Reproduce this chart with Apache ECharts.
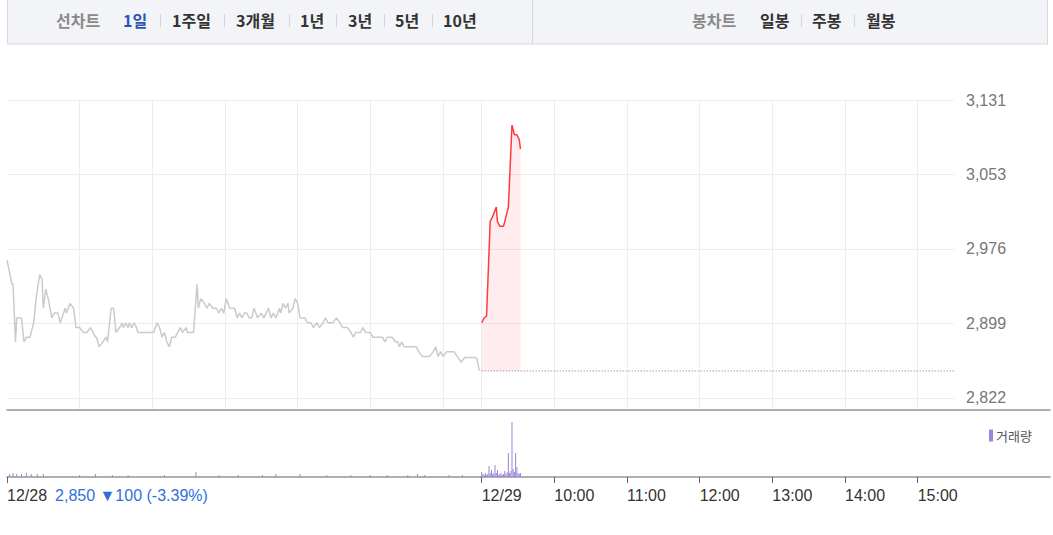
<!DOCTYPE html>
<html><head><meta charset="utf-8">
<script src="https://cdn.jsdelivr.net/npm/echarts@6/dist/echarts.min.js"></script>
<style>html,body{margin:0;padding:0;background:#fff}#c{width:1053px;height:535px}</style>
</head><body><div id="c"></div>
<script>
// ---------------- DATA ----------------
const prevClose = 2850;
const changeText = '2,850 ▼100 (-3.39%)';
const dayLabels = ['12/28', '12/29'];

const day1Times = ['09:00','09:04','09:05','09:07','09:08','09:12','09:14','09:16','09:19','09:22','09:24','09:27','09:29','09:30','09:32','09:34','09:37','09:39','09:42','09:44','09:48','09:49','09:52','09:55','09:57','10:00','10:03','10:06','10:09','10:11','10:13','10:14','10:16','10:19','10:22','10:23','10:26','10:28','10:30','10:33','10:35','10:36','10:38','10:40','10:41','10:43','10:45','10:47','10:48','10:50','10:52','11:01','11:04','11:06','11:08','11:10','11:12','11:14','11:16','11:19','11:21','11:23','11:25','11:28','11:29','11:31','11:34','11:37','11:38','11:40','11:43','11:45','11:47','11:50','11:53','11:55','11:57','11:59','12:01','12:04','12:08','12:10','12:12','12:14','12:16','12:18','12:20','12:22','12:24','12:27','12:30','12:32','12:34','12:36','12:38','12:40','12:42','12:45','12:46','12:48','12:50','12:52','12:53','12:56','12:58','13:00','13:02','13:06','13:08','13:11','13:13','13:16','13:18','13:21','13:23','13:25','13:29','13:32','13:35','13:37','13:41','13:44','13:46','13:48','13:52','13:54','13:56','14:00','14:02','14:10','14:12','14:14','14:18','14:21','14:23','14:24','14:26','14:28','14:38','14:40','14:43','14:49','14:52','14:54','14:56','14:58','15:00','15:03','15:09','15:13','15:15','15:18','15:26','15:28','15:30'];
const day1Prices = [2965,2940,2940,2880,2905,2905,2880,2885,2885,2900,2925,2950,2945,2915,2935,2925,2905,2910,2910,2900,2915,2910,2920,2915,2895,2895,2890,2890,2895,2890,2885,2885,2875,2880,2885,2880,2915,2915,2890,2895,2900,2895,2900,2895,2900,2895,2900,2895,2890,2890,2890,2890,2900,2895,2885,2890,2880,2875,2885,2885,2890,2895,2890,2895,2890,2890,2890,2940,2915,2925,2920,2915,2920,2915,2915,2910,2915,2910,2925,2915,2915,2905,2910,2905,2910,2910,2905,2905,2915,2905,2910,2905,2910,2915,2905,2910,2905,2915,2910,2920,2915,2920,2910,2915,2925,2920,2905,2905,2900,2900,2895,2900,2895,2900,2905,2900,2900,2905,2900,2895,2895,2890,2885,2890,2890,2895,2890,2890,2885,2885,2880,2885,2885,2880,2880,2875,2880,2875,2875,2870,2865,2865,2870,2875,2865,2870,2865,2870,2870,2863,2859,2864,2864,2863,2850];

const day2Times = ['09:00','09:02','09:04','09:07','09:09','09:12','09:13','09:15','09:18','09:20','09:22','09:25','09:27','09:29','09:31','09:32'];
const day2Prices = [2900,2905,2907,3005,3010,3020,3005,3000,3000,3010,3020,3105,3095,3095,3090,3080];

const day1VolTimes = ['09:02','09:05','09:08','09:12','09:16','09:20','09:25','09:30','10:00','10:13','10:27','10:40','11:10','11:36','11:55','12:11','12:31','12:42','13:02','13:24','13:44','14:00','14:14','14:31','14:39','14:45','15:05','15:16'];
const day1Vols = [4500,6000,4500,4500,6000,4500,4500,4500,3000,4500,3000,3000,3000,7500,3000,3000,3000,4500,4500,3000,3000,3000,3000,3000,4500,3000,3000,3000];

const day2VolTimes = ['09:00','09:01','09:02','09:03','09:04','09:05','09:06','09:07','09:08','09:09','09:10','09:11','09:12','09:13','09:14','09:15','09:16','09:17','09:18','09:19','09:20','09:21','09:22','09:23','09:24','09:25','09:26','09:27','09:28','09:29','09:30','09:31','09:32'];
const day2Vols = [7500,4500,3000,6000,3000,4500,16500,6000,10500,4500,6000,18000,6000,10500,3000,4500,6000,3000,4500,9000,4500,7500,36000,6000,9000,82000,12000,7500,36000,15000,6000,4500,6000];

const yTicks = [2822, 2899.25, 2976.5, 3053.75, 3131];
const yTickLabels = ['2,822', '2,899', '2,976', '3,053', '3,131'];

const gridDay1Times = ['10:00','11:00','12:00','13:00','14:00','15:00'];
const gridDay2Times = ['09:00','10:00','11:00','12:00','13:00','14:00','15:00'];

const xLabelDays  = [1, 2, 2, 2, 2, 2, 2, 2];
const xLabelTimes = ['09:00','09:00','10:00','11:00','12:00','13:00','14:00','15:00'];
const xLabelTexts = ['12/28', '12/29', '10:00', '11:00', '12:00', '13:00', '14:00', '15:00'];

const lineTabsTitle = '선차트';
const lineTabs = ['1일', '1주일', '3개월', '1년', '3년', '5년', '10년'];
const candleTabsTitle = '봉차트';
const candleTabs = ['일봉', '주봉', '월봉'];
const volumeName = '거래량';

// ---------------- LAYOUT ----------------
const DAY2_START = 392;          // axis offset of second session (minutes)
const SESSION = 390;             // 09:00 - 15:30
const X_MAX = DAY2_START + SESSION;
const Y_MIN = 2809.5, Y_MAX = 3131;
const VOL_MAX = 100000;

const toMin = t => { const [h, m] = t.split(':').map(Number); return (h - 9) * 60 + m; };
const xOf = (day, t) => (day === 1 ? 0 : DAY2_START) + toMin(t);

const gridXs = gridDay1Times.map(t => xOf(1, t)).concat(gridDay2Times.map(t => xOf(2, t)));
const labelXs = xLabelTimes.map((t, i) => xOf(xLabelDays[i], t));

const day1Line = day1Times.map((t, i) => [xOf(1, t), day1Prices[i]]);
const day2Line = day2Times.map((t, i) => [xOf(2, t), day2Prices[i]]);
const volData = day1VolTimes.map((t, i) => [xOf(1, t), day1Vols[i]])
  .concat(day2VolTimes.map((t, i) => [xOf(2, t), day2Vols[i]]));

const NUMFONT = '"Liberation Sans", Arial, sans-serif';
const KRFONT = '"Noto Sans CJK KR", sans-serif';

// top bar layout
const leftTabX = [123, 172, 236, 300, 348, 395, 443];
const leftSepX = [160, 224, 289, 336, 384, 432];
const rightTabX = [760, 812, 866];
const rightSepX = [801, 854];
const graphic = [
  { type: 'rect', shape: { x: 7.5, y: -1, width: 1040, height: 45 }, style: { fill: '#f3f4f8', stroke: '#d6d9df', lineWidth: 1 }, silent: true },
  { type: 'line', shape: { x1: 532.5, y1: 0, x2: 532.5, y2: 44 }, style: { stroke: '#d6d9df', lineWidth: 1 } },
  { type: 'text', x: 56, y: 20, style: { text: lineTabsTitle, fill: '#8a8a8a', font: 'bold 16px ' + KRFONT, verticalAlign: 'middle' } },
  { type: 'text', x: 692, y: 20, style: { text: candleTabsTitle, fill: '#8a8a8a', font: 'bold 16px ' + KRFONT, verticalAlign: 'middle' } }
];
lineTabs.forEach((t, i) => graphic.push({ type: 'text', x: leftTabX[i], y: 20, style: { text: t, fill: i === 0 ? '#2b55b5' : '#333', font: 'bold 16px ' + KRFONT, verticalAlign: 'middle' } }));
leftSepX.forEach(x => graphic.push({ type: 'line', shape: { x1: x + 0.5, y1: 14, x2: x + 0.5, y2: 27 }, style: { stroke: '#d3d5da', lineWidth: 1 } }));
candleTabs.forEach((t, i) => graphic.push({ type: 'text', x: rightTabX[i], y: 20, style: { text: t, fill: '#333', font: 'bold 16px ' + KRFONT, verticalAlign: 'middle' } }));
rightSepX.forEach(x => graphic.push({ type: 'line', shape: { x1: x + 0.5, y1: 14, x2: x + 0.5, y2: 27 }, style: { stroke: '#d3d5da', lineWidth: 1 } }));

const hidden = { show: false };
const chart = echarts.init(document.getElementById('c'), null, { renderer: 'svg' });
chart.setOption({
  animation: false,
  backgroundColor: '#fff',
  graphic: graphic,
  legend: {
    data: [volumeName], left: 984, top: 424, icon: 'rect', itemWidth: 4, itemHeight: 12, itemGap: 4,
    selectedMode: false, textStyle: { color: '#555', fontSize: 13, fontFamily: KRFONT, padding: [0, 0, 0, -2] }
  },
  grid: [
    { left: 7, width: 947, top: 100, height: 310 },
    { left: 7, width: 947, top: 410, height: 67 },
    { left: 7, right: 3, top: 410, height: 67 }
  ],
  xAxis: [
    { gridIndex: 0, type: 'value', min: 0, max: X_MAX, axisLine: { show: false, onZero: false }, axisLabel: hidden,
      axisTick: { show: false, customValues: gridXs }, splitLine: { show: true, lineStyle: { color: '#ededed', width: 1 } } },
    { gridIndex: 1, type: 'value', min: 0, max: X_MAX, axisLine: { show: false, onZero: false }, splitLine: hidden,
      axisTick: { show: true, length: 6, customValues: labelXs, lineStyle: { color: '#666', width: 1 } },
      axisLabel: { show: true, customValues: labelXs, margin: 10, align: 'left', color: '#333', fontSize: 16, fontFamily: NUMFONT,
        formatter: v => {
          const i = labelXs.findIndex(x => Math.abs(x - v) < 0.01);
          if (i < 0) return '';
          return i === 0 ? '{d|' + xLabelTexts[i] + '}{b|' + changeText + '}' : xLabelTexts[i];
        },
        rich: { d: { color: '#333', fontSize: 16, fontFamily: NUMFONT }, b: { color: '#2f6fdc', fontSize: 16, fontFamily: NUMFONT, padding: [0, 0, 0, 8] } } } },
    { gridIndex: 2, type: 'value', position: 'top', min: 0, max: 1, axisLine: { show: true, onZero: false, lineStyle: { color: '#959595', width: 1.5 } },
      axisTick: hidden, axisLabel: hidden, splitLine: hidden },
    { gridIndex: 2, type: 'value', position: 'bottom', min: 0, max: 1, axisLine: { show: true, onZero: false, lineStyle: { color: '#959595', width: 1.5 } },
      axisTick: hidden, axisLabel: hidden, splitLine: hidden }
  ],
  yAxis: [
    { gridIndex: 0, type: 'value', position: 'right', min: Y_MIN, max: Y_MAX, axisLine: hidden,
      axisTick: { show: false, customValues: yTicks },
      axisLabel: { show: true, customValues: yTicks, margin: 12, color: '#777', fontSize: 16, fontFamily: NUMFONT,
        formatter: v => { const i = yTicks.findIndex(t => Math.abs(t - v) < 0.01); return i < 0 ? '' : yTickLabels[i]; } },
      splitLine: { show: true, lineStyle: { color: '#ededed', width: 1 } } },
    { gridIndex: 1, type: 'value', min: 0, max: VOL_MAX, show: false, splitLine: hidden },
    { gridIndex: 2, type: 'value', min: 0, max: 1, show: false, splitLine: hidden }
  ],
  series: [
    { name: 'day1', type: 'line', xAxisIndex: 0, yAxisIndex: 0, data: day1Line, showSymbol: false, symbol: 'none',
      lineStyle: { color: '#c9cbd0', width: 1.5 }, z: 3 },
    { name: 'prevClose', type: 'line', xAxisIndex: 0, yAxisIndex: 0, data: [[DAY2_START, prevClose], [X_MAX, prevClose]],
      showSymbol: false, symbol: 'none', lineStyle: { color: '#777', width: 1, type: [1, 2] }, z: 2 },
    { name: 'day2', type: 'line', xAxisIndex: 0, yAxisIndex: 0, data: day2Line, showSymbol: false, symbol: 'none',
      lineStyle: { color: '#ff3a3a', width: 1.5 }, areaStyle: { origin: prevClose, color: 'rgba(245,60,80,0.14)' }, z: 4 },
    { name: volumeName, type: 'bar', xAxisIndex: 1, yAxisIndex: 1, data: volData, barWidth: 1,
      itemStyle: { color: '#9b86d6' } }
  ]
});
</script></body></html>
